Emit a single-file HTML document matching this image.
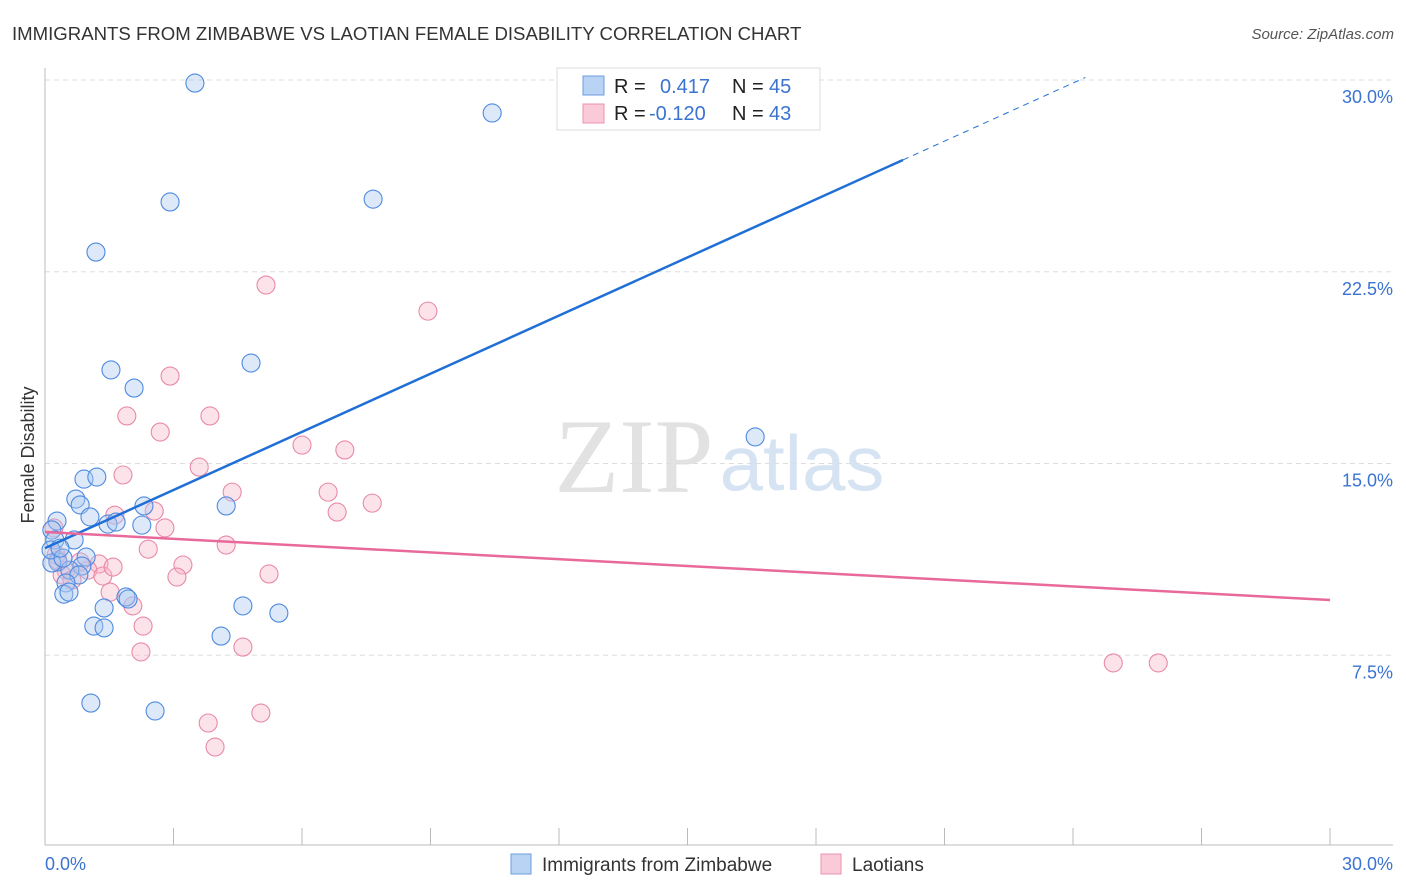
<!DOCTYPE html>
<html><head><meta charset="utf-8"><style>
body{margin:0;background:#fff;font-family:"Liberation Sans",sans-serif;}
svg{display:block}
</style></head><body>
<svg id="chart" width="1406" height="892" xmlns="http://www.w3.org/2000/svg">
<text x="12" y="40" font-size="18.6" fill="#333">IMMIGRANTS FROM ZIMBABWE VS LAOTIAN FEMALE DISABILITY CORRELATION CHART</text>
<text x="1394" y="39" font-size="15" fill="#555" font-style="italic" text-anchor="end">Source: ZipAtlas.com</text>
<g>
<text x="634" y="492" font-size="106" fill="#e2e2e2" font-family="Liberation Serif,serif" text-anchor="middle">ZIP</text>
<text x="802" y="490" font-size="78" fill="#d6e3f3" text-anchor="middle">atlas</text>
</g>
<g id="grid"></g>
<g id="axes"></g>
<g id="marks"></g>
<text transform="translate(34,455) rotate(-90)" font-size="18" fill="#333" text-anchor="middle">Female Disability</text>
<text x="45" y="870" font-size="18" fill="#3b73d1">0.0%</text>
<text x="1393" y="870" font-size="18" fill="#3b73d1" text-anchor="end">30.0%</text>
<g>
<rect x="557" y="68" width="263" height="62" fill="#fff" stroke="#ddd"/>
<rect x="583" y="76" width="21" height="19" fill="#b8d3f4" stroke="#6b9ee0"/>
<rect x="583" y="104" width="21" height="19" fill="#fbcad8" stroke="#ec93ae"/>
<text x="614" y="93" font-size="20" fill="#222">R =</text>
<text x="660" y="93" font-size="20" fill="#3b73d1">0.417</text>
<text x="732" y="93" font-size="20" fill="#222">N =</text>
<text x="769" y="93" font-size="20" fill="#3b73d1">45</text>
<text x="614" y="120" font-size="20" fill="#222">R =</text>
<text x="649" y="120" font-size="20" fill="#3b73d1">-0.120</text>
<text x="732" y="120" font-size="20" fill="#222">N =</text>
<text x="769" y="120" font-size="20" fill="#3b73d1">43</text>
</g>
<g>
<rect x="511" y="854" width="20" height="20" fill="#b8d3f4" stroke="#6b9ee0"/>
<text x="542" y="871" font-size="19" fill="#333">Immigrants from Zimbabwe</text>
<rect x="821" y="854" width="20" height="20" fill="#fbcad8" stroke="#ec93ae"/>
<text x="852" y="871" font-size="19" fill="#333">Laotians</text>
</g>
</svg>
<script>
const yTicks=[7.5,15,22.5,30];
const yTickLabels=["7.5%","15.0%","22.5%","30.0%"];
const xTicks=[0,3,6,9,12,15,18,21,24,27,30];
const blueX=[3.50,10.44,2.92,7.66,1.19,1.54,4.81,2.08,16.58,0.91,1.21,0.72,0.82,0.28,1.05,1.47,1.66,2.31,4.23,2.26,0.16,0.23,0.68,0.30,0.16,0.96,0.86,0.58,0.79,0.49,0.44,0.56,1.38,1.89,1.94,4.62,5.46,1.14,1.38,4.11,1.07,2.57,0.14,0.42,0.35];
const blueY=[29.88,28.71,25.23,25.34,23.27,18.66,18.93,17.95,16.04,14.39,14.47,13.61,13.38,12.75,12.91,12.63,12.71,13.34,13.34,12.59,12.40,12.01,12.01,11.15,11.11,11.34,10.99,10.83,10.64,10.33,9.89,9.97,9.35,9.78,9.70,9.43,9.15,8.64,8.57,8.25,5.63,5.32,11.62,11.30,11.69];
const pinkX=[5.16,8.94,2.92,1.91,3.85,2.69,6.00,7.00,1.82,3.60,4.37,6.61,7.64,6.82,1.63,2.55,2.80,0.21,2.41,4.23,0.26,1.26,3.22,1.00,0.49,0.40,1.35,3.08,5.23,1.52,2.05,2.29,2.24,4.62,3.81,5.04,3.97,24.94,25.99,0.30,0.82,0.63,1.59];
const pinkY=[21.98,20.96,18.42,16.86,16.86,16.23,15.72,15.53,14.55,14.86,13.88,13.88,13.45,13.10,12.98,13.14,12.48,12.48,11.65,11.81,11.42,11.07,11.03,10.83,10.83,10.64,10.60,10.56,10.68,9.97,9.43,8.64,7.63,7.82,4.85,5.24,3.91,7.20,7.20,11.22,11.15,10.44,10.95];
const blueTrend=[11.69,0.758,20.03];
const pinkTrend=[12.32,-0.0887];

const NS="http://www.w3.org/2000/svg";
const X=v=>45+v*(1285/30);
const Y=v=>847-v*(767/30);
function mk(tag,attrs,parent){const e=document.createElementNS(NS,tag);for(const k in attrs)e.setAttribute(k,attrs[k]);parent.appendChild(e);return e;}
const grid=document.getElementById('grid'),axes=document.getElementById('axes'),marks=document.getElementById('marks');
yTicks.forEach((t,i)=>{
  const l=mk('line',{x1:45,x2:1393,y1:Y(t),y2:Y(t),stroke:'#ddd','stroke-dasharray':'5,4'},grid);
  
  
  const tx=mk('text',{x:1393,y:Y(t)+23,'font-size':18,fill:'#3b73d1','text-anchor':'end'},grid);
  tx.textContent=yTickLabels[i];
  
  
});
const ax=mk('line',{x1:45,x2:45,y1:68,y2:845,stroke:'#bbb'},axes);


const bx=mk('line',{x1:45,x2:1393,y1:845,y2:845,stroke:'#bbb'},axes);


xTicks.forEach(t=>{
  const l=mk('line',{x1:X(t),x2:X(t),y1:828,y2:845,stroke:'#bbb'},axes);
  
  
});
function dots(xs,ys,fill,stroke,name){
  xs.forEach((x,i)=>{
    const c=mk('circle',{cx:X(x),cy:Y(ys[i]),r:9,fill:fill,'fill-opacity':0.4,stroke:stroke,'stroke-width':1.1},marks);
    
    
  });
}
dots(pinkX,pinkY,'#f7b6c9','#e88aa8','laotian-point');
dots(blueX,blueY,'#a9c9f0','#4d8ae0','zimbabwe-point');
const bEndY=blueTrend[0]+blueTrend[1]*blueTrend[2];
const b1=mk('line',{x1:X(0),y1:Y(blueTrend[0]),x2:X(blueTrend[2]),y2:Y(bEndY),stroke:'#1f6fd6','stroke-width':2.5},marks);


const dX=(30.1-blueTrend[0])/blueTrend[1];
const b2=mk('line',{x1:X(blueTrend[2]),y1:Y(bEndY),x2:X(dX),y2:Y(30.1),stroke:'#1f6fd6','stroke-width':1,'stroke-dasharray':'6,5'},marks);


const p1=mk('line',{x1:X(0),y1:Y(pinkTrend[0]),x2:X(30),y2:Y(pinkTrend[0]+pinkTrend[1]*30),stroke:'#e8699a','stroke-width':2.5},marks);


</script>
</body></html>
